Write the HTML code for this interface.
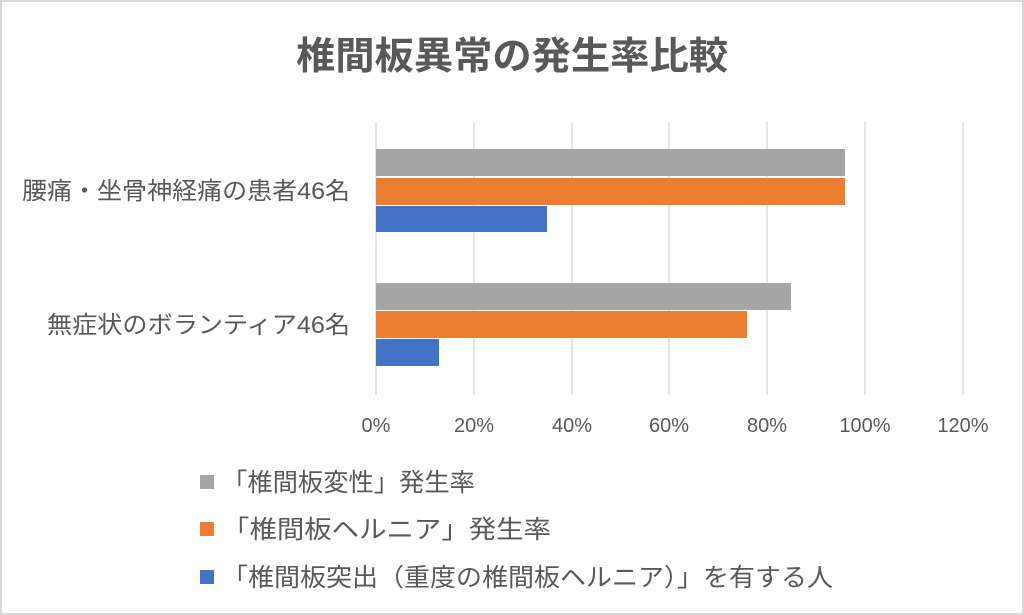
<!DOCTYPE html>
<html><head><meta charset="utf-8"><style>
html,body{margin:0;padding:0;background:#fff}
svg{display:block}
text{font-family:"Liberation Sans","Noto Sans CJK JP",sans-serif;fill:#595959}
</style></head><body>
<svg width="1024" height="615" viewBox="0 0 1024 615">
<rect x="1" y="1" width="1022" height="613" fill="#fff" stroke="#d9d9d9" stroke-width="2"/>
<text x="296" y="69" font-size="38" font-weight="bold" textLength="432" lengthAdjust="spacingAndGlyphs">椎間板異常の発生率比較</text>
<g stroke="#d9d9d9" stroke-width="1.3">
<line x1="376" y1="122" x2="376" y2="395"/>
<line x1="474" y1="122" x2="474" y2="395"/>
<line x1="572" y1="122" x2="572" y2="395"/>
<line x1="669" y1="122" x2="669" y2="395"/>
<line x1="767" y1="122" x2="767" y2="395"/>
<line x1="865" y1="122" x2="865" y2="395"/>
<line x1="963" y1="122" x2="963" y2="395"/>
</g>
<rect x="376" y="149" width="469" height="27" fill="#a5a5a5"/>
<rect x="376" y="178" width="469" height="27" fill="#ed7d31"/>
<rect x="376" y="206" width="171" height="26" fill="#4472c4"/>
<rect x="376" y="283" width="415" height="27" fill="#a5a5a5"/>
<rect x="376" y="311" width="371" height="27" fill="#ed7d31"/>
<rect x="376" y="339" width="63" height="27" fill="#4472c4"/>
<g font-size="24">
<text x="22" y="199" textLength="328" lengthAdjust="spacingAndGlyphs">腰痛・坐骨神経痛の患者46名</text>
<text x="47" y="333" textLength="303" lengthAdjust="spacingAndGlyphs">無症状のボランティア46名</text>
</g>
<g font-size="20" text-anchor="middle">
<text x="376" y="432">0%</text>
<text x="474" y="432">20%</text>
<text x="572" y="432">40%</text>
<text x="669" y="432">60%</text>
<text x="767" y="432">80%</text>
<text x="865" y="432">100%</text>
<text x="963" y="432">120%</text>
</g>
<rect x="200" y="475" width="14" height="14" fill="#a5a5a5"/>
<rect x="200" y="522" width="14" height="14" fill="#ed7d31"/>
<rect x="200" y="570" width="14" height="14" fill="#4472c4"/>
<g font-size="25">
<text x="222" y="491" textLength="253" lengthAdjust="spacingAndGlyphs">「椎間板変性」発生率</text>
<text x="222" y="538" textLength="329" lengthAdjust="spacingAndGlyphs">「椎間板ヘルニア」発生率</text>
<text x="222" y="586" textLength="611" lengthAdjust="spacingAndGlyphs">「椎間板突出（重度の椎間板ヘルニア）」を有する人</text>
</g>
</svg>
</body></html>
